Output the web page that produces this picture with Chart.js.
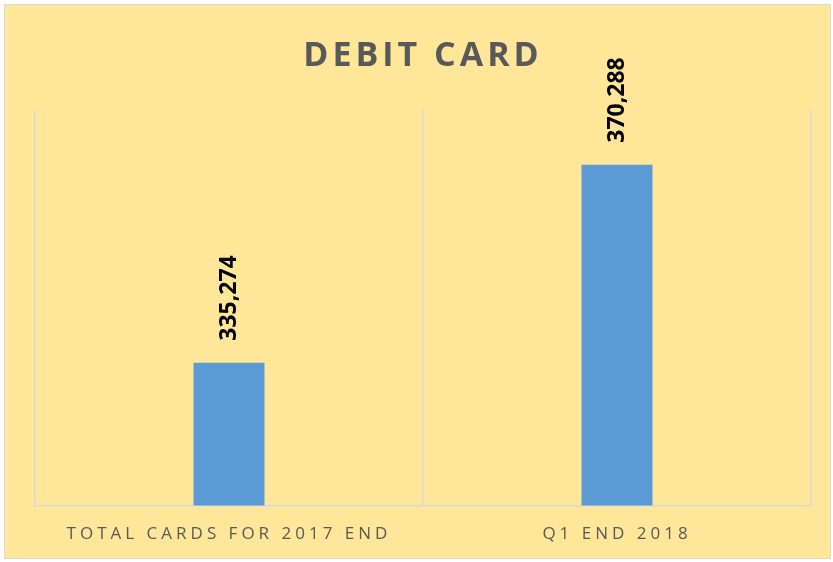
<!DOCTYPE html>
<html>
<head>
<meta charset="utf-8">
<script src="https://cdn.jsdelivr.net/npm/chart.js@4.4.1/dist/chart.umd.min.js"></script>
<style>
  html, body { margin: 0; padding: 0; background: #ffffff; }
  #frame { position: absolute; left: 4px; top: 4px; width: 825px; height: 553px;
           border: 1px solid #d9d9d9; background: #FFE699; }
  #wrap { position: absolute; left: 0; top: 0; width: 833px; height: 562px; }
</style>
</head>
<body>
<div id="frame"></div>
<div id="wrap"><canvas id="bar-chart" width="833" height="562"></canvas></div>
<script>
var categories = ["TOTAL CARDS FOR 2017 END", "Q1 END 2018"];
var cardCounts = [335274, 370288];
var axisMin = 310000;
var axisMax = 380000;

// rotated value labels above each bar
var valueLabels = {
    id: 'valueLabels',
    afterDatasetsDraw: function(chart) {
        var ctx = chart.ctx;
        var meta = chart.getDatasetMeta(0);
        ctx.save();
        ctx.letterSpacing = '0px';
        ctx.font = 'bold 23px "Open Sans"';
        ctx.fillStyle = '#000000';
        ctx.textAlign = 'left';
        ctx.textBaseline = 'middle';
        meta.data.forEach(function(bar, i) {
            ctx.save();
            ctx.translate(bar.x, bar.y - 22);
            ctx.rotate(-Math.PI / 2);
            ctx.fillText(cardCounts[i].toLocaleString('en-US'), 0, 0);
            ctx.restore();
        });
        ctx.restore();
    }
};

var spacing = {
    id: 'spacing',
    beforeDraw: function(chart) { chart.ctx.letterSpacing = '4px'; }
};

new Chart(document.getElementById("bar-chart"), {
    type: 'bar',
    data: {
        labels: categories,
        datasets: [{
            label: "Debit Card",
            backgroundColor: "#5B9BD5",
            borderWidth: 0,
            barPercentage: 0.183,
            categoryPercentage: 1,
            data: cardCounts
        }]
    },
    options: {
        responsive: false,
        animation: false,
        devicePixelRatio: 1,
        layout: { padding: { top: 0, left: 35, right: 22, bottom: 0 } },
        plugins: {
            legend: { display: false },
            tooltip: { enabled: false },
            title: {
                display: true,
                text: 'DEBIT CARD',
                color: '#595959',
                font: { family: 'Open Sans', size: 34, weight: 'bold', lineHeight: 1.2 },
                padding: { top: 36, bottom: 33 }
            }
        },
        scales: {
            x: {
                grid: { offset: true, color: '#d9d9d9', lineWidth: 1.5, drawTicks: false },
                border: { display: true, color: '#d9d9d9', width: 1.5 },
                ticks: { color: '#595959', padding: 18, font: { family: 'Open Sans', size: 17 } }
            },
            y: {
                display: false,
                min: axisMin,
                max: axisMax
            }
        }
    },
    plugins: [spacing, valueLabels]
});
</script>
</body>
</html>
